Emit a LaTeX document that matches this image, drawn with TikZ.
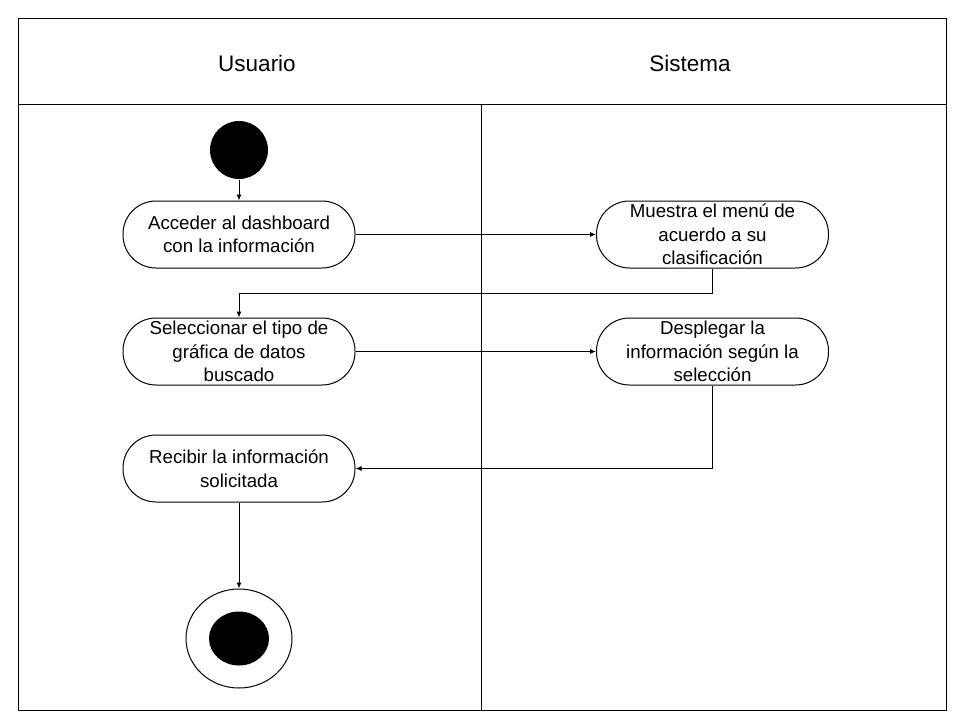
\documentclass[tikz,border=0pt]{standalone}
\usepackage{fontspec}
\setmainfont{Liberation Sans}
\usetikzlibrary{arrows.meta,shapes.geometric}
\begin{document}
\begin{tikzpicture}[x=1pt,y=-1pt,line width=1pt,
  act/.style={draw,rounded corners=33pt,minimum width=232pt,minimum height=67pt,inner sep=0pt,align=center,font=\fontsize{18.7}{23.5}\selectfont},
  title/.style={font=\fontsize{22.5}{26}\selectfont},
  flow/.style={-{Latex[length=6pt,width=5pt]}}]
\useasboundingbox (0,0) rectangle (960,720);
% frame
\draw (18,18) rectangle (946,710);
\draw (18,104) -- (946,104);
\draw (481,104) -- (481,710);
\node[title] (u) at (257,63) {Usuario};
\node[title] (s) at (690,63) {Sistema};
% nodes
\node[circle,fill=black,minimum size=58pt,inner sep=0pt] (start) at (239,150) {};
\node[act] (a1) at (239,234.5) {Acceder al dashboard\\con la información};
\node[act] (b1) at (712.5,234.5) {Muestra el menú de\\acuerdo a su\\clasificación};
\node[act] (a2) at (239,351.5) {Seleccionar el tipo de\\gráfica de datos\\buscado};
\node[act] (b2) at (712.5,351.5) {Desplegar la\\información según la\\selección};
\node[act] (a3) at (239,468.5) {Recibir la información\\solicitada};
\node[ellipse,draw,minimum width=106pt,minimum height=99pt,inner sep=0pt] (end) at (239,638.5) {};
\node[ellipse,fill=black,minimum width=60pt,minimum height=54pt,inner sep=0pt] (endin) at (239,638.5) {};
% connectors
\draw[flow] (start) -- (a1);
\draw[flow] (a1) -- (b1);
\draw[flow] (b1.south) -- (712.5,293) -| (a2.north);
\draw[flow] (a2) -- (b2);
\draw[flow] (b2.south) |- (a3.east);
\draw[flow] (a3) -- (end);
\end{tikzpicture}
\end{document}
